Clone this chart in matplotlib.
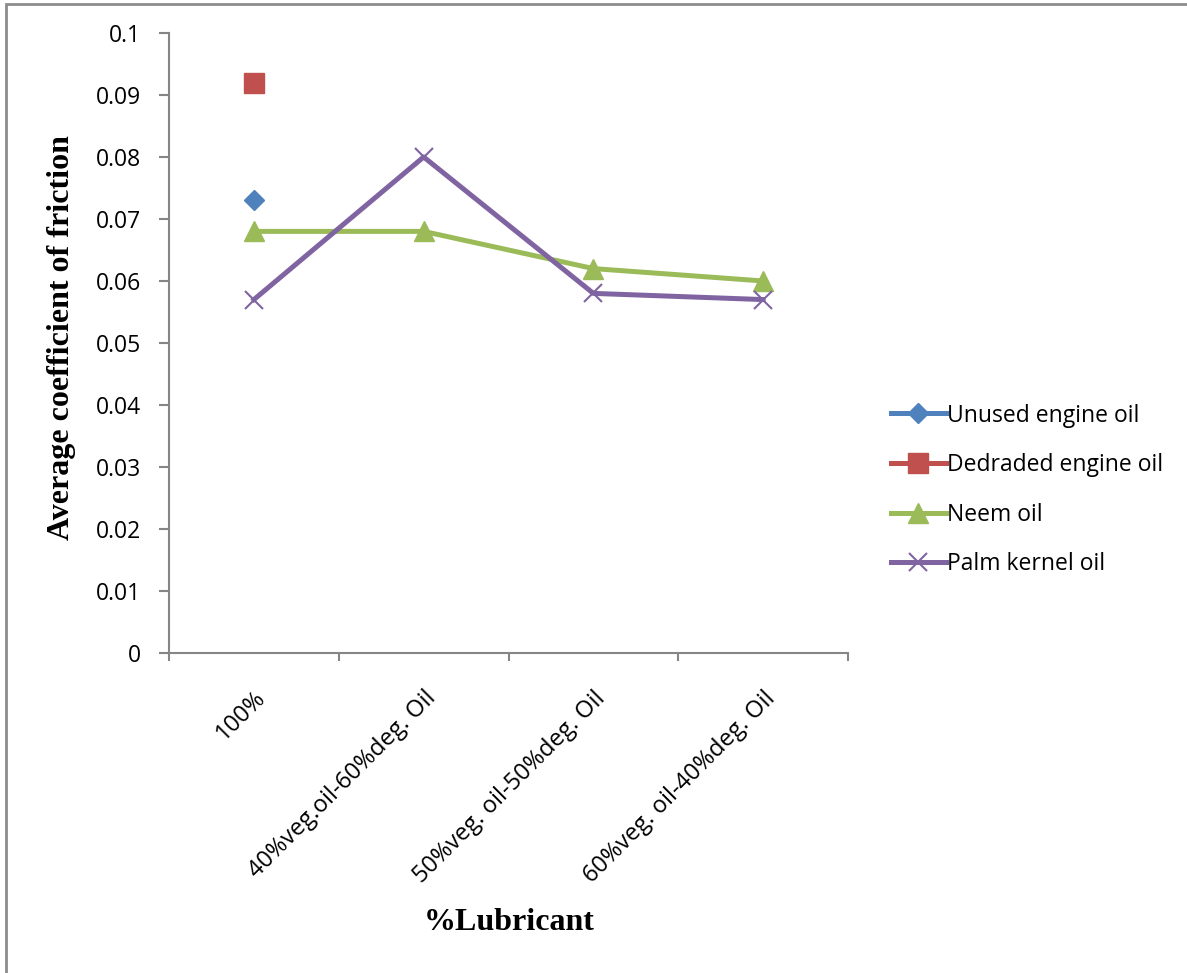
import matplotlib.pyplot as plt
from matplotlib.patches import Rectangle
from matplotlib.lines import Line2D
import numpy as np

categories = ['100%', '40%veg.oil-60%deg. Oil', '50%veg. oil-50%deg. Oil', '60%veg. oil-40%deg. Oil']
unused_oil = [0.073]
degraded_oil = [0.092]
neem_oil = [0.068, 0.068, 0.062, 0.060]
palm_kernel_oil = [0.057, 0.080, 0.058, 0.057]
yticks = [0, 0.01, 0.02, 0.03, 0.04, 0.05, 0.06, 0.07, 0.08, 0.09, 0.1]
ytick_labels = ['0', '0.01', '0.02', '0.03', '0.04', '0.05', '0.06', '0.07', '0.08', '0.09', '0.1']

plt.rcParams['font.family'] = ['Open Sans', 'DejaVu Sans']

fig = plt.figure(figsize=(11.87, 9.73), dpi=100)
ax = fig.add_axes([0.1424, 0.3289, 0.572, 0.6372])

x = np.arange(len(categories))
ax.plot(x[:1], unused_oil, color='#4F81BD', marker='D', markersize=10, lw=3.6, ls='none')
ax.plot(x[:1], degraded_oil, color='#C0504D', marker='s', markersize=14, lw=3.6, ls='none')
ax.plot(x, neem_oil, color='#9BBB59', marker='^', markersize=15, lw=3.6)
ax.plot(x, palm_kernel_oil, color='#8064A2', marker='x', markersize=13, mew=1.5, lw=3.6)

ax.set_xlim(-0.5, len(categories) - 0.5)
ax.set_ylim(0, 0.1)
ax.set_yticks(yticks)
ax.set_yticklabels(ytick_labels, fontsize=16.5)
ax.set_xticks(x)
ax.set_xticklabels(categories, fontsize=17, rotation=45, ha='right', rotation_mode='anchor')
ax.set_xticks(np.arange(-0.5, len(categories)), minor=True)
ax.tick_params(axis='x', which='major', length=0, pad=24)
ax.tick_params(axis='x', which='minor', length=6, color='#868686', width=1.5)
ax.tick_params(axis='y', length=7, color='#868686', width=1.5, pad=13)

for s in ['top', 'right']:
    ax.spines[s].set_visible(False)
for s in ['left', 'bottom']:
    ax.spines[s].set_color('#868686')
    ax.spines[s].set_linewidth(1.5)

fig.text(62 / 1187, 1 - 338 / 973, 'Average coefficient of friction', fontsize=23,
         fontweight='bold', family='Liberation Serif', rotation=90,
         ha='center', va='center')
fig.text(509 / 1187, 1 - 922 / 973, '%Lubricant', fontsize=23, fontweight='bold',
         family='Liberation Serif', ha='center', va='center')

handles = [
    Line2D([], [], color='#4F81BD', marker='D', markersize=10, lw=3.6),
    Line2D([], [], color='#C0504D', marker='s', markersize=14, lw=3.6),
    Line2D([], [], color='#9BBB59', marker='^', markersize=15, lw=3.6),
    Line2D([], [], color='#8064A2', marker='x', markersize=13, mew=1.5, lw=3.6),
]
labels = ['Unused engine oil', 'Dedraded engine oil', 'Neem oil', 'Palm kernel oil']
fig.legend(handles, labels, loc='center left', bbox_to_anchor=(0.733, 1 - 490 / 973),
           frameon=False, fontsize=16.5, handlelength=2.4, handletextpad=0.05,
           labelspacing=1.12)

# outer chart frame
fig.patches.append(Rectangle((6 / 1187, -0.05), 1.2, 1 - 4 / 973 + 0.05,
                             transform=fig.transFigure, fill=False,
                             edgecolor='#8C8C8C', lw=2))

fig.savefig('out.png', dpi=100)
